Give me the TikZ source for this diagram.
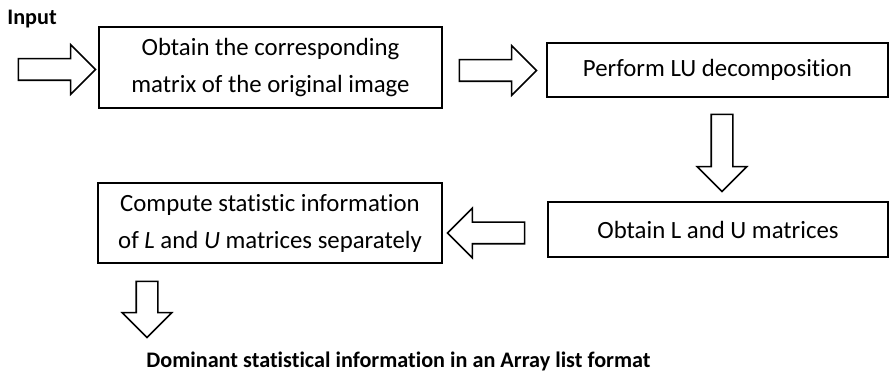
\documentclass[tikz,border=0pt]{standalone}
\usepackage{fontspec}
\setmainfont{Carlito}[Ligatures=NoCommon]
\usepackage{tikz}
\usetikzlibrary{shapes.arrows}

\begin{document}
\begin{tikzpicture}[
  x=0.5pt, y=-0.5pt,
  stage/.style={draw, line width=0.8pt, inner sep=0pt, align=center, font=\fontsize{12.4}{18.5}\selectfont},
  fat/.style={single arrow, draw, line width=0.8pt, inner sep=5pt, single arrow head extend=7pt, single arrow tip angle=90},
  lbl/.style={font=\fontsize{11.1}{13}\selectfont\bfseries, inner sep=0pt, anchor=base west},
]
  \useasboundingbox (0,0) rectangle (889,373);

  % processing stages
  \node[stage, minimum width=171.5pt, minimum height=40.5pt] (matrix) at (270.5,67.5) {Obtain the corresponding\\matrix of the original image};
  \node[stage, minimum width=170.5pt, minimum height=27pt] (lu) at (717.5,70) {Perform LU decomposition};
  \node[stage, minimum width=170pt, minimum height=27.5pt] (factors) at (718,229.5) {Obtain L and U matrices};
  \node[stage, minimum width=172pt, minimum height=40pt] (stats) at (270,223) {Compute statistic information\\of \textit{L} and \textit{U} matrices separately};

  % block arrows between the stages
  \foreach \n/\x/\y/\r/\l in {ain/51.5/69.5/0/38.5, alu/492.5/70.5/0/38.5, afac/722/147.5/270/38.5, astat/491.5/233/180/38.5, aout/147/304/270/28} {
    \node[fat, shape border rotate=\r, minimum height=\l pt] (\n) at (\x,\y) {};
  }

  \node[lbl] (input) at (7,25) {Input};
  \node[lbl] (result) at (146,368) {Dominant statistical information in an Array list format};
\end{tikzpicture}
\end{document}
